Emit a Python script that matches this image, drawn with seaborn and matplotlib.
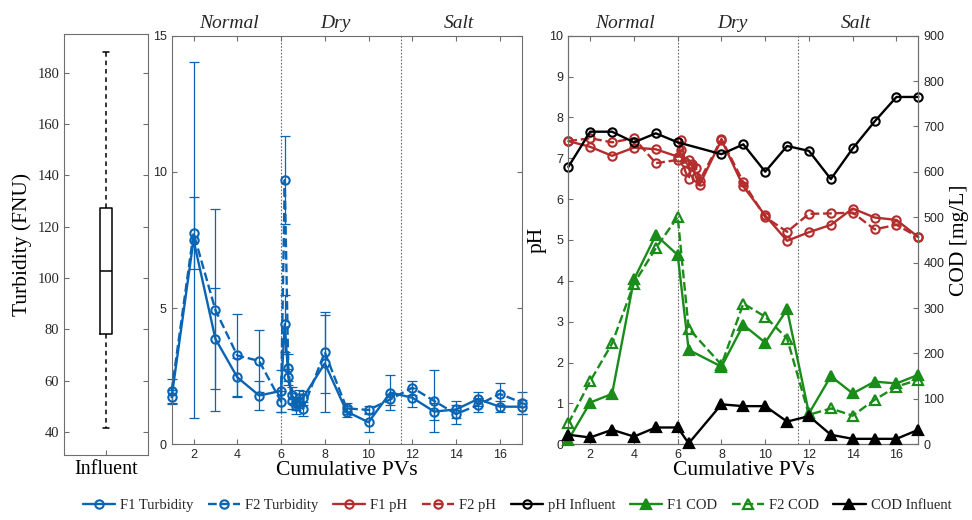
import numpy as np
import matplotlib
matplotlib.use("Agg")
import matplotlib.pyplot as plt
import seaborn as sns

# influent turbidity summary (min, Q1, median, Q3, max)
influent_turb = [41.7, 78.3, 102.6, 127.2, 187.8]

turb_x = [1, 2, 3, 4, 5, 6, 6.17, 6.33, 6.5, 6.67, 6.83, 7, 8, 9, 10, 11, 12, 13, 14, 15, 16, 17]
f1_turb = [1.73, 7.5, 3.87, 2.46, 1.79, 1.96, 4.42, 2.48, 1.8, 1.5, 1.6, 1.7, 2.97, 1.2, 0.81, 1.9, 1.71, 1.2, 1.28, 1.66, 1.38, 1.38]
f2_turb = [1.96, 7.75, 4.93, 3.26, 3.06, 1.57, 9.7, 2.81, 1.6, 1.4, 1.7, 1.3, 3.38, 1.32, 1.26, 1.65, 2.08, 1.59, 1.11, 1.44, 1.85, 1.53]
f1_turb_err = [0.25, 6.55, 1.85, 0.69, 0.53, 0.77, 1.05, 0.3, 0.3, 0.25, 0.25, 0.25, 1.78, 0.2, 0.35, 0.65, 0.35, 0.3, 0.3, 0.25, 0.2, 0.25]
f2_turb_err = [0.45, 1.33, 3.72, 1.52, 1.14, 0.4, 1.63, 0.5, 0.3, 0.3, 0.3, 0.25, 1.48, 0.2, 0.15, 0.2, 0.26, 1.15, 0.35, 0.25, 0.4, 0.4]

ph_x = [1, 2, 3, 4, 5, 6, 6.17, 6.33, 6.5, 6.67, 6.83, 7, 8, 9, 10, 11, 12, 13, 14, 15, 16, 17]
f1_ph = [7.42, 7.28, 7.06, 7.26, 7.22, 7.04, 7.45, 6.9, 6.95, 6.8, 6.55, 6.35, 7.45, 6.31, 5.6, 4.98, 5.19, 5.37, 5.77, 5.55, 5.49, 5.07]
f2_ph = [7.42, 7.49, 7.39, 7.49, 6.88, 6.96, 7.2, 6.7, 6.5, 6.85, 6.75, 6.45, 7.47, 6.41, 5.56, 5.2, 5.64, 5.65, 5.67, 5.26, 5.37, 5.07]

ph_inf_x = [1, 2, 3, 4, 5, 6, 8, 9, 10, 11, 12, 13, 14, 15, 16, 17]
ph_inf = [6.79, 7.65, 7.65, 7.39, 7.61, 7.39, 7.1, 7.34, 6.67, 7.3, 7.18, 6.49, 7.24, 7.9, 8.5, 8.5]

cod_x = [1, 2, 3, 4, 5, 6, 6.5, 8, 9, 10, 11, 12, 13, 14, 15, 16, 17]
f1_cod = [10, 92, 111, 363, 461, 417, 208, 171, 263, 224, 297, 68, 150, 112, 138, 134, 153]
f2_cod = [46, 139, 222, 354, 432, 501, 255, 175, 310, 281, 233, 65, 79, 63, 98, 127, 142]
cod_inf = [21, 15, 32, 17, 37, 37, 2, 88, 84, 84, 50, 62, 21, 12, 12, 12, 32]

phases = ["Normal", "Dry", "Salt"]
phase_mid = [3.6, 8.5, 14.15]
phase_edges = [6, 11.5]

blue = "#0a64b4"
red = "#b42d2d"
green = "#1a8c1a"
black = "#000000"

sns.set_style("ticks")
plt.rcParams["font.family"] = ["Liberation Sans", "DejaVu Sans"]
plt.rcParams["axes.edgecolor"] = "#6e6e6e"
plt.rcParams["axes.linewidth"] = 0.8
plt.rcParams["xtick.color"] = "#6e6e6e"
plt.rcParams["ytick.color"] = "#6e6e6e"
plt.rcParams["xtick.labelcolor"] = "#262626"
plt.rcParams["ytick.labelcolor"] = "#262626"

serif = ["Liberation Serif", "DejaVu Serif"]

fig = plt.figure(figsize=(9.72, 5.2), dpi=100)
ax0 = fig.add_axes([0.0658, 0.125, 0.0864, 0.8096])
ax1 = fig.add_axes([0.1766, 0.1456, 0.3601, 0.7858])
ax2 = fig.add_axes([0.5847, 0.1456, 0.3601, 0.7858])
ax3 = ax2.twinx()


def style_ticks(ax, right=True, top=True):
    ax.tick_params(direction="in", length=3.5, width=0.8, top=top, right=right, labelsize=9)


# --- influent box
sns.boxplot(x=["Influent"] * len(influent_turb), y=influent_turb, ax=ax0, color="black", fill=False,
            width=0.15, linewidth=1.1, whis=3.0, fliersize=0,
            whiskerprops=dict(linestyle=(0, (3, 2.5))))
ax0.set_xlim(-0.5, 0.5)
ax0.set_ylim(31, 195)
ax0.set_yticks(np.arange(40, 181, 20))
ax0.set_xlabel("")
ax0.set_ylabel("Turbidity (FNU)", family=serif, fontsize=15.5, color="black")
style_ticks(ax0, top=False)
for t in ax0.get_yticklabels():
    t.set_family(serif)
    t.set_fontsize(10.5)
for t in ax0.get_xticklabels():
    t.set_family(serif)
    t.set_fontsize(14.5)
    t.set_color("black")

# --- turbidity panel
for ys, es in ((f1_turb, f1_turb_err), (f2_turb, f2_turb_err)):
    eb = ax1.errorbar(turb_x, ys, yerr=es, fmt="none", ecolor=blue, elinewidth=0.9,
                      capsize=3.5, capthick=0.9)
    for art in eb.get_children():
        art.set_clip_on(False)

mk = dict(markersize=6, markerfacecolor="none", markeredgewidth=1.5, linewidth=1.7,
          legend=False, clip_on=False, zorder=3)
handles = []
sns.lineplot(x=turb_x, y=f1_turb, ax=ax1, color=blue, marker="o", markeredgecolor=blue, **mk)
handles.append((ax1.lines[-1], "F1 Turbidity"))
sns.lineplot(x=turb_x, y=f2_turb, ax=ax1, color=blue, marker="o", markeredgecolor=blue, linestyle="--", **mk)
handles.append((ax1.lines[-1], "F2 Turbidity"))
ax1.set_xlim(1, 17)
ax1.set_ylim(0, 15)
ax1.set_xticks(np.arange(2, 17, 2))
ax1.set_yticks([0, 5, 10, 15])
style_ticks(ax1)

# --- pH / COD panel
sns.lineplot(x=ph_x, y=f1_ph, ax=ax2, color=red, marker="o", markeredgecolor=red, **mk)
handles.append((ax2.lines[-1], "F1 pH"))
sns.lineplot(x=ph_x, y=f2_ph, ax=ax2, color=red, marker="o", markeredgecolor=red, linestyle="--", **mk)
handles.append((ax2.lines[-1], "F2 pH"))
sns.lineplot(x=ph_inf_x, y=ph_inf, ax=ax2, color=black, marker="o", markeredgecolor=black, **mk)
handles.append((ax2.lines[-1], "pH Influent"))

tk = dict(markersize=7.5, markeredgewidth=1.6, linewidth=1.7, legend=False, clip_on=False, zorder=3)
sns.lineplot(x=cod_x, y=f1_cod, ax=ax3, color=green, marker="^", markeredgecolor=green,
             markerfacecolor=green, **tk)
handles.append((ax3.lines[-1], "F1 COD"))
sns.lineplot(x=cod_x, y=f2_cod, ax=ax3, color=green, marker="^", markeredgecolor=green,
             markerfacecolor="none", linestyle="--", **tk)
handles.append((ax3.lines[-1], "F2 COD"))
sns.lineplot(x=cod_x, y=cod_inf, ax=ax3, color=black, marker="^", markeredgecolor=black,
             markerfacecolor=black, **tk)
handles.append((ax3.lines[-1], "COD Influent"))

ax2.set_xlim(1, 17)
ax2.set_ylim(0, 10)
ax2.set_xticks(np.arange(2, 17, 2))
ax2.set_yticks(np.arange(0, 11, 1))
style_ticks(ax2, right=False)
ax3.set_ylim(0, 900)
ax3.set_yticks(np.arange(0, 901, 100))
ax3.tick_params(direction="in", length=3.5, width=0.8, labelsize=9)
ax2.set_ylabel("pH", family=serif, fontsize=15.5, color="black", labelpad=2)
ax3.set_ylabel("COD [mg/L]", family=serif, fontsize=15.5, color="black", labelpad=4)

for ax in (ax1, ax2):
    for xe in phase_edges:
        ax.axvline(xe, color="#6a6a6a", linestyle=(0, (1.5, 1.5)), linewidth=0.8, zorder=0)
    ax.set_xlabel("Cumulative PVs", family=serif, fontsize=15.5, color="black", labelpad=0)
    for name, xm in zip(phases, phase_mid):
        ax.annotate(name, xy=(xm, 1), xycoords=("data", "axes fraction"), xytext=(0, 3),
                    textcoords="offset points", ha="center", va="bottom",
                    family=serif, style="italic", fontsize=14)

fig.legend([h for h, _ in handles], [l for _, l in handles], loc="lower center",
           bbox_to_anchor=(0.532, -0.01), ncol=9, frameon=False, handlelength=2.2,
           handletextpad=0.35, columnspacing=1.0, prop={"family": serif, "size": 10.5})

fig.savefig("out.png", dpi=100)
